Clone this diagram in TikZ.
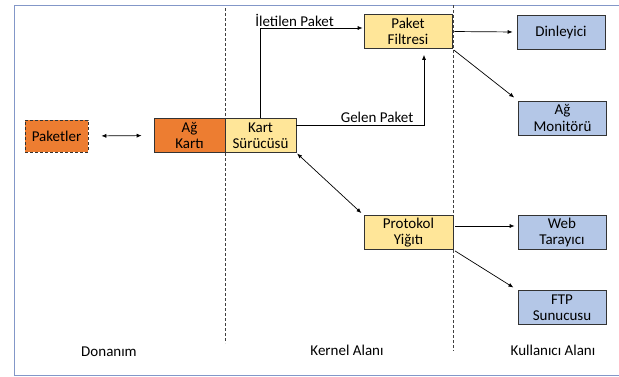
\documentclass[tikz,border=0pt]{standalone}
\usepackage{fontspec}
\setmainfont{Carlito}
\usetikzlibrary{arrows.meta}
\definecolor{kartturuncu}{HTML}{ED7D31}
\definecolor{kernelsari}{HTML}{FFE699}
\definecolor{kullanicimavi}{HTML}{B4C7E7}
\definecolor{cerceve}{HTML}{8397C8}
\tikzset{
  kutu/.style={draw=black!80, line width=0.7pt, minimum height=34pt, inner sep=0pt,
    align=center, font=\fontsize{15}{16.5}\selectfont},
  donanimkutu/.style={kutu, fill=kartturuncu, minimum width=71pt},
  kernelkutu/.style={kutu, fill=kernelsari},
  kullanicikutu/.style={kutu, fill=kullanicimavi, minimum width=88pt},
  ok/.style={-{Latex[length=5pt,width=4pt]}, line width=0.7pt},
  ciftok/.style={{Latex[length=5pt,width=4pt]}-{Latex[length=5pt,width=4pt]}, line width=0.7pt},
  sinir/.style={densely dashed, line width=0.8pt, black!75},
  alanyazi/.style={font=\fontsize{15}{16}\selectfont}
}

\begin{document}
\begin{tikzpicture}[x=1pt,y=-1pt]
\useasboundingbox (0,0) rectangle (619,376);

%cerceve
\draw[cerceve, line width=1pt] (619,5)--(14,5)--(14,375)--(619,375);

%alan sinirlari
\draw[sinir] (225,8)--(225,343);
\draw[sinir] (453,5)--(453,351);

%donanim
\node[donanimkutu, minimum width=63pt, minimum height=32pt, densely dashed] (paketler) at (56.5,136) {Paketler};
\node[donanimkutu] (agkarti) at (189.5,135.5) {Ağ\\Kartı};

%kernel
\node[kernelkutu, minimum width=71pt] (surucu) at (260.5,135.5) {Kart\\Sürücüsü};
\node[kernelkutu, minimum width=88pt] (filtre) at (408,31.5) {Paket\\Filtresi};
\node[kernelkutu, minimum width=89pt] (yigit) at (408.5,232.5) {Protokol\\Yiğıtı};

%kullanici
\node[kullanicikutu] (dinleyici) at (561,32) {Dinleyici};
\node[kullanicikutu] (monitor) at (562.5,118) {Ağ\\Monitörü};
\node[kullanicikutu] (tarayici) at (562,232.5) {Web\\Tarayıcı};
\node[kullanicikutu] (ftp) at (562,307.5) {FTP\\Sunucusu};

%oklar
\draw[ciftok, shorten <=13pt, shorten >=12pt] (paketler.east)--(agkarti.west);
\draw[ok, shorten >=1pt] (surucu.north) |- ([yshift=3.5pt]filtre.west)
  node[pos=0.665, above, inner sep=1pt, alanyazi] {İletilen Paket};
\draw[ok] ([yshift=10.5pt]surucu.east) -| ([xshift=16pt,yshift=-6pt]filtre.south)
  node[pos=0.316, above, inner sep=2pt, alanyazi] {Gelen Paket};
\draw[ciftok, shorten <=1pt, shorten >=3pt] (surucu.south east)--(yigit.north west);
\draw[ok, shorten <=2pt, shorten >=4pt] (filtre.east)--(dinleyici.west);
\draw[ok, shorten <=2pt, shorten >=5pt] (filtre.south east)--(monitor.north west);
\draw[ok, shorten <=2pt, shorten >=3pt] ([yshift=6.5pt]yigit.east)--([yshift=6.5pt]tarayici.west);
\draw[ok, shorten <=2pt, shorten >=5pt] (yigit.south east)--(ftp.north west);

%alan adlari
\node[alanyazi] (donanim) at (109,352) {Donanım};
\node[alanyazi] (kernel) at (347,350) {Kernel Alanı};
\node[alanyazi] (kullanici) at (553,350) {Kullanıcı Alanı};

\end{tikzpicture}
\end{document}
